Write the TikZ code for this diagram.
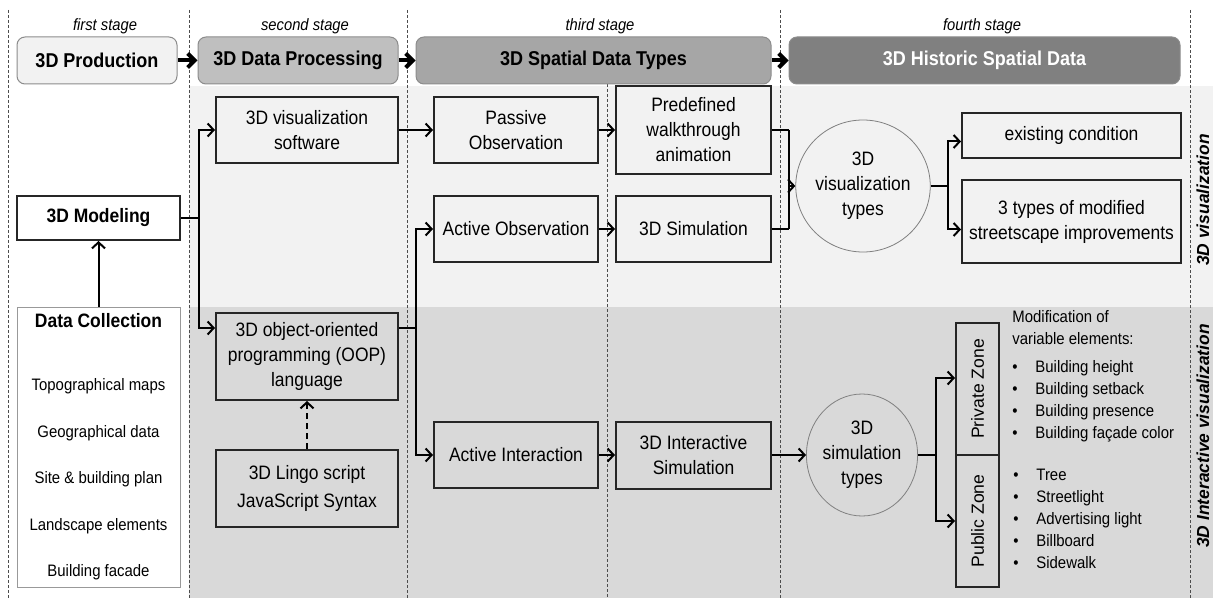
\documentclass[tikz,border=0pt]{standalone}
\usepackage{fontspec}
\setmainfont{Liberation Sans}[FakeStretch=0.9]
\newfontfamily\plainsans{Liberation Sans}
\usetikzlibrary{shapes,arrows.meta}
\definecolor{rim}{HTML}{262626}
\tikzstyle{stagelabel}=[font=\fontsize{8.2}{9}\itshape]
\tikzstyle{header}=[rounded corners=4pt,draw=black!45,line width=0.5pt,minimum height=23.5pt,font=\fontsize{10}{11}\bfseries]
\tikzstyle{procbox}=[draw=rim,line width=1pt,align=center,inner sep=2pt,font=\fontsize{9.7}{12.5}\selectfont]
\tikzstyle{oval}=[ellipse,draw=black!50,line width=0.4pt,align=center,inner sep=0pt,font=\fontsize{9.7}{12.5}\selectfont]
\tikzstyle{zone}=[draw=rim,line width=1pt,minimum width=21.5pt,minimum height=66pt,inner sep=0pt,font=\plainsans\fontsize{8.8}{10}\selectfont]
\tikzstyle{bigfeed}=[line width=2pt,{Straight Barb[length=3.5pt,width=7pt]}-]
\tikzstyle{feed}=[line width=1pt,{Straight Barb[length=3pt,width=6.5pt]}-]
\tikzstyle{flow}=[line width=1pt,-{Straight Barb[length=3pt,width=6.5pt]}]
\tikzstyle{link}=[line width=1pt]
\tikzstyle{divider}=[dash pattern=on 1.5pt off 1pt,line width=0.4pt,black!70]
\tikzstyle{itemlist}=[align=left,inner sep=0pt,font=\fontsize{8.3}{11}\selectfont]
\tikzstyle{sidelabel}=[rotate=90,font=\plainsans\fontsize{8.7}{10}\bfseries\itshape]
\newcommand{\zonebullet}{\makebox[11.5pt][l]{\textbullet}}

\begin{document}
\begin{tikzpicture}[x=0.5pt,y=-0.5pt]
\useasboundingbox (0,0) rectangle (1213,598);
% bands
  \fill[gray!10] (189,86) rectangle (1213,307);
  \fill[gray!30] (189,307) rectangle (1213,598);
% dividers
  \foreach \x in {8,189,407,780,1190}
    \draw[divider] (\x,10) -- (\x,598);
  \draw[divider] (607,84) -- (607,598);
% stages
  \node[stagelabel] (st1) at (105,26) {first stage};
  \node[stagelabel] (st2) at (305,26) {second stage};
  \node[stagelabel] (st3) at (600,26) {third stage};
  \node[stagelabel] (st4) at (982,26) {fourth stage};
% headers
  \node[header,fill=gray!10,minimum width=80pt] (prod) at (97,60.5) {3D Production};
  \node[header,fill=gray!50,minimum width=100pt] (proc) at (298,60.5) {3D Data Processing}
    edge [bigfeed] (prod);
  \node[header,fill=gray!70,minimum width=177.5pt] (types) at (593.5,60.5) {3D Spatial Data Types}
    edge [bigfeed] (proc);
  \node[header,fill=gray,text=white,minimum width=195.5pt] (hist) at (984.5,60.5) {3D Historic Spatial Data}
    edge [bigfeed] (types);
% first stage
  \node[procbox,draw=black!40,line width=0.5pt,fill=white,minimum width=81.5pt,minimum height=140pt,
        font=\fontsize{8.3}{23.3}\selectfont] (collect) at (98.5,447)
    {{\fontsize{9.7}{10}\bfseries Data Collection}\\[8pt]Topographical maps\\Geographical data\\
     Site \& building plan\\Landscape elements\\Building facade};
  \node[procbox,fill=white,minimum width=81.5pt,minimum height=22pt,font=\fontsize{9.7}{10}\bfseries] (model) at (98.5,218) {3D Modeling}
    edge [feed] (collect);
% second stage
  \node[procbox,minimum width=91pt,minimum height=33pt] (vissw) at (307,130) {3D visualization\\software};
  \node[procbox,minimum width=91pt,minimum height=43.5pt] (oop) at (307,356.5) {3D object-oriented\\programming (OOP)\\language};
  \node[procbox,minimum width=91pt,minimum height=38.5pt] (lingo) at (307,488.5) {3D Lingo script\\[1.5pt]JavaScript Syntax};
  \draw[flow,dash pattern=on 3pt off 2pt] (lingo) -- (oop);
  \draw[link] (model.east) -- ++(9pt,0) coordinate (fork1);
  \draw[flow] (fork1) |- (vissw.west);
  \draw[flow] (fork1) |- ([yshift=-8pt]oop.north west);
% third stage
  \node[procbox,minimum width=82pt,minimum height=33pt] (passive) at (516,130) {Passive\\Observation}
    edge [feed] (vissw);
  \node[procbox,minimum width=82pt,minimum height=33pt] (actobs) at (516,229) {Active Observation};
  \node[procbox,minimum width=82pt,minimum height=33pt] (actint) at (516,455) {Active Interaction};
  \node[procbox,minimum width=77.5pt,minimum height=44pt] (predef) at (693.5,130) {Predefined\\walkthrough\\animation}
    edge [feed] (passive);
  \node[procbox,minimum width=77.5pt,minimum height=33pt] (sim) at (693.5,229) {3D Simulation}
    edge [feed] (actobs);
  \node[procbox,minimum width=77.5pt,minimum height=33.5pt] (intsim) at (693.5,455) {3D Interactive\\Simulation}
    edge [feed] (actint);
  \draw[link] ([yshift=-8pt]oop.north east) -- ++(8.5pt,0) coordinate (fork2);
  \draw[flow] (fork2) |- (actobs.west);
  \draw[flow] (fork2) |- (actint.west);
% fourth stage
  \node[oval,minimum width=54.5pt,minimum height=66pt] (visell) at (863,186) {3D\\visualization\\types};
  \node[procbox,minimum width=109.5pt,minimum height=22.5pt] (existing) at (1071.5,135.5) {existing condition};
  \node[procbox,minimum width=109.5pt,minimum height=41.5pt] (improve) at (1071.5,221.5) {3 types of modified\\streetscape improvements};
  \draw[link] (predef.east) -- ++(8.5pt,0) coordinate (join1);
  \draw[link] (sim.east) -- ++(8.5pt,0) coordinate (join2);
  \draw[link] (join1) -- (join2);
  \draw[flow] (join1 |- visell.west) -- (visell.west);
  \draw[link] (visell.east) -- ++(8.5pt,0) coordinate (fork3);
  \draw[flow] (fork3) |- ([yshift=-3pt]existing.west);
  \draw[flow] (fork3) |- ([yshift=-4pt]improve.west);
  \node[oval,minimum width=50pt,minimum height=61pt] (simell) at (862,455) {3D\\simulation\\types}
    edge [feed] (intsim);
  \node[zone] (private) at (977.5,389) {\rotatebox{90}{Private Zone}};
  \node[zone] (public) at (977.5,521) {\rotatebox{90}{Public Zone}};
  \draw[link] (simell.east) -- ++(9pt,0) coordinate (fork4);
  \draw[flow] (fork4) |- ([yshift=5.5pt]private.west);
  \draw[flow] (fork4) |- (public.west);
  \node[itemlist,anchor=north west] (privlist) at (1012,310)
    {Modification of\\variable elements:\\[3pt]
     \zonebullet Building height\\\zonebullet Building setback\\
     \zonebullet Building presence\\\zonebullet Building fa\c{c}ade color};
  \node[itemlist,anchor=north west] (publist) at (1013,469)
    {\zonebullet Tree\\\zonebullet Streetlight\\\zonebullet Advertising light\\
     \zonebullet Billboard\\\zonebullet Sidewalk};
% sides
  \node[sidelabel] (vislab) at (1203,200) {3D visualization};
  \node[sidelabel] (intlab) at (1203,436) {3D Interactive visualization};
\end{tikzpicture}
\end{document}
